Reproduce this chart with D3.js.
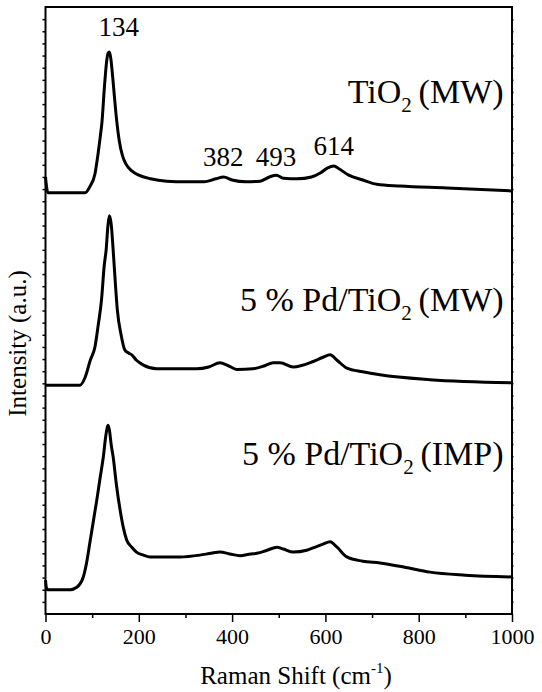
<!DOCTYPE html>
<html>
<head>
<meta charset="utf-8">
<script src="https://cdn.jsdelivr.net/npm/d3@7.9.0/dist/d3.min.js"></script>
<style>
  body { margin: 0; background: #fff; }
</style>
</head>
<body>
<svg id="chart" width="542" height="692"></svg>
<script>
// Raman shift (cm-1) and intensity (a.u., offset stacked)
const shiftMW = [0, 2, 5, 85, 95, 106, 113, 118, 121, 126, 131, 134, 137, 140, 144, 148, 153, 158, 165, 172, 185, 200, 225, 260, 300, 340, 365, 382, 400, 430, 460, 480, 495, 510, 540, 570, 590, 605, 618, 630, 650, 680, 710, 760, 860, 1000];
const intMW = [72.0, 70.5, 69.4, 69.4, 70.4, 72.5, 76.0, 79.0, 81.0, 86.5, 91.0, 92.4, 92.6, 91.5, 88.5, 85.0, 81.0, 78.0, 75.5, 74.2, 73.0, 72.3, 71.7, 71.3, 71.2, 71.2, 71.7, 72.0, 71.5, 71.2, 71.3, 72.0, 72.3, 71.8, 71.7, 72.0, 72.7, 73.5, 73.8, 73.3, 72.3, 71.5, 70.8, 70.5, 70.2, 69.7];

const shiftPdMW = [0, 74, 85, 96, 106, 113, 120, 126, 130, 134, 137, 141, 145, 150, 154, 162, 170, 178, 185, 195, 210, 238, 324, 350, 374, 392, 410, 445, 470, 488, 503, 531, 574, 595, 610, 625, 646, 680, 717, 824, 1000];
const intPdMW = [37.7, 37.7, 39.0, 41.8, 44.0, 47.6, 51.7, 57.5, 60.0, 64.1, 65.6, 64.1, 60.0, 54.2, 50.1, 46.0, 43.5, 43.0, 42.7, 41.8, 41.0, 40.4, 40.4, 40.7, 41.4, 40.9, 40.3, 40.4, 40.9, 41.4, 41.4, 40.7, 41.6, 42.3, 42.7, 41.8, 40.5, 39.9, 39.4, 38.6, 38.1];

const shiftPdIMP = [0, 2, 5, 53, 67, 81, 88, 95, 103, 110, 117, 124, 129, 132, 134, 137, 141, 145, 152, 160, 167, 174, 185, 195, 210, 224, 288, 331, 355, 374, 395, 417, 440, 453, 475, 496, 510, 531, 560, 574, 595, 610, 625, 646, 680, 717, 770, 824, 900, 1000];
const intPdIMP = [5.6, 4.3, 4.0, 4.0, 4.4, 6.1, 8.4, 11.7, 15.5, 18.8, 22.4, 25.9, 29.2, 30.6, 31.1, 30.3, 27.8, 25.9, 21.3, 17.1, 14.2, 12.2, 11.0, 10.2, 9.7, 9.4, 9.4, 9.7, 10.0, 10.2, 9.9, 9.6, 9.9, 10.0, 10.5, 11.0, 10.7, 10.2, 10.5, 10.9, 11.5, 11.9, 11.0, 9.4, 8.7, 8.4, 7.7, 6.9, 6.4, 6.1];

const xTicks = [0, 200, 400, 600, 800, 1000];

// peak labels: [text, shift, intensity]
const peakLabels = [["134", 157, 95.2], ["382", 381, 73.8], ["493", 494, 73.8], ["614", 618, 75.6]];
// sample labels: [before subscript, after subscript, intensity of baseline]
const sampleLabels = [["TiO", "(MW)", 84.2], ["5 % Pd/TiO", "(MW)", 49.9], ["5 % Pd/TiO", "(IMP)", 24.5]];

const FONT = 'Liberation Serif';

const svg = d3.select('#chart');
const margin = { left: 45.5, right: 30, top: 7, bottom: 78 };
const W = 542, H = 692;

const x = d3.scaleLinear().domain([0, 1000]).range([margin.left, W - margin.right]);
const y = d3.scaleLinear().domain([0, 100]).range([H - margin.bottom, margin.top]);

const series = [
  shiftMW.map((s, i) => [s, intMW[i]]),
  shiftPdMW.map((s, i) => [s, intPdMW[i]]),
  shiftPdIMP.map((s, i) => [s, intPdIMP[i]])
];

const line = d3.line()
  .x(d => x(d[0]))
  .y(d => y(d[1]))
  .curve(d3.curveMonotoneX);

svg.append('g')
  .selectAll('path')
  .data(series)
  .join('path')
  .attr('d', line)
  .attr('fill', 'none')
  .attr('stroke', '#000')
  .attr('stroke-width', 3)
  .attr('stroke-linejoin', 'round');

// bottom axis, major + minor ticks pointing out
svg.append('g').attr('transform', `translate(0,${y(0)})`)
  .call(d3.axisBottom(x).tickValues(d3.range(100, 1000, 200)).tickSize(4).tickFormat(''))
  .call(g => g.select('.domain').remove());
const bMajor = svg.append('g').attr('transform', `translate(0,${y(0)})`)
  .call(d3.axisBottom(x).tickValues(xTicks).tickSize(8).tickPadding(5).tickFormat(d3.format('d')));
bMajor.select('.domain').remove();
bMajor.attr('font-family', FONT);
bMajor.selectAll('text')
  .attr('font-family', FONT).attr('font-size', 22).attr('fill', '#000').attr('dy', '0.75em');

// left / right minor ticks
const yTicks = d3.range(2, 100, 2);
svg.append('g').attr('transform', `translate(${x(0)},0)`)
  .call(d3.axisLeft(y).tickValues(yTicks).tickSize(3).tickFormat(''))
  .select('.domain').remove();
svg.append('g').attr('transform', `translate(${x(1000)},0)`)
  .call(d3.axisRight(y).tickValues(yTicks).tickSize(2).tickFormat(''))
  .call(g => g.selectAll('line').attr('stroke', '#888'))
  .select('.domain').remove();

svg.selectAll('.tick line').attr('stroke-width', 1.5);

// frame
svg.append('rect')
  .attr('x', x(0)).attr('y', y(100))
  .attr('width', x(1000) - x(0)).attr('height', y(0) - y(100))
  .attr('fill', 'none').attr('stroke', '#000').attr('stroke-width', 2);

// peak labels
svg.append('g').selectAll('text')
  .data(peakLabels)
  .join('text')
  .attr('x', d => x(d[1]))
  .attr('y', d => y(d[2]))
  .attr('text-anchor', 'middle')
  .attr('font-family', FONT)
  .attr('font-size', 27)
  .text(d => d[0]);

// sample labels with subscript 2
const sl = svg.append('g').selectAll('text')
  .data(sampleLabels)
  .join('text')
  .attr('x', x(982))
  .attr('y', d => y(d[2]))
  .attr('text-anchor', 'end')
  .attr('font-family', FONT)
  .attr('font-size', 34);
sl.append('tspan').text(d => d[0]);
sl.append('tspan').attr('font-size', 21).attr('dy', 9).text('2');
sl.append('tspan').attr('dy', -9).text(d => '\u2009' + d[1]);

// axis titles
const xt = svg.append('text')
  .attr('x', 296).attr('y', 684)
  .attr('text-anchor', 'middle')
  .attr('font-family', FONT)
  .attr('font-size', 25);
xt.append('tspan').text('Raman Shift (cm');
xt.append('tspan').attr('font-size', 15).attr('dy', -11).text('-1');
xt.append('tspan').attr('dy', 11).text(')');

svg.append('text')
  .attr('transform', `translate(26,${(y(0) + y(100)) / 2 + 33}) rotate(-90)`)
  .attr('text-anchor', 'middle')
  .attr('font-family', FONT)
  .attr('font-size', 25)
  .text('Intensity (a.u.)');
</script>
</body>
</html>
